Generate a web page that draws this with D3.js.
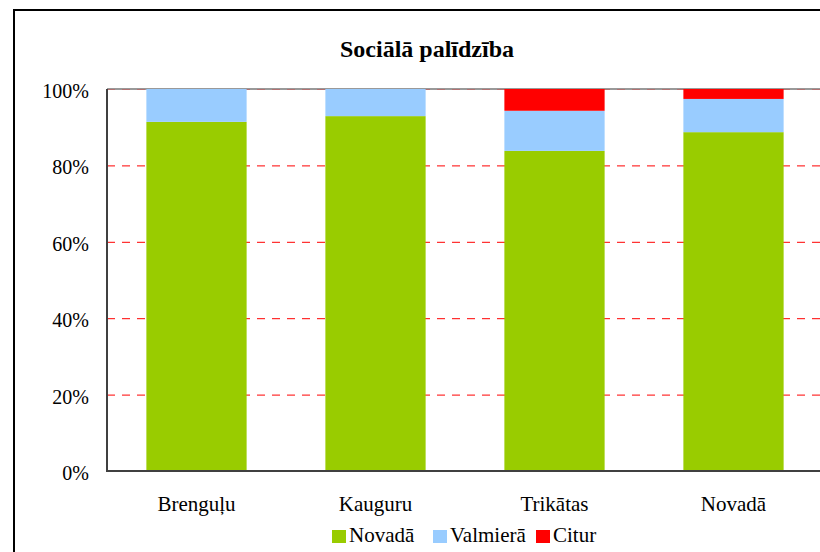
<!DOCTYPE html>
<html>
<head>
  <meta charset="UTF-8">
  <script src="https://d3js.org/d3.v7.min.js"></script>
  <style>
    body { margin: 0; background: #fff; }
  </style>
</head>
<body>
  <svg width="820" height="552"></svg>
  <script>
    // dati
    const categories = ["Brenguļu", "Kauguru", "Trikātas", "Novadā"];
    const seriesNames = ["Novadā", "Valmierā", "Citur"];
    const novada = [91.4, 92.9, 83.8, 88.7];
    const valmiera = [8.6, 7.1, 10.5, 8.7];
    const citur = [0, 0, 5.7, 2.6];
    const yTicks = [0, 20, 40, 60, 80, 100];
    const colors = ["#99cc00", "#99ccff", "#ff0000"];

    const FONT = "Liberation Serif";

    const rows = categories.map((c, i) => ({
      cat: c, "Novadā": novada[i], "Valmierā": valmiera[i], "Citur": citur[i]
    }));

    const svg = d3.select("svg");
    const plotL = 107, plotT = 89, plotB = 471, plotR = 823;

    // rāmis
    svg.append("rect")
      .attr("x", 14).attr("y", 10)
      .attr("width", 830).attr("height", 560)
      .attr("fill", "none").attr("stroke", "#000").attr("stroke-width", 2);

    svg.append("text")
      .attr("x", 427).attr("y", 57)
      .attr("text-anchor", "middle")
      .attr("font-family", FONT)
      .attr("font-size", 24).attr("font-weight", "bold")
      .text("Sociālā palīdzība");

    const x = d3.scaleBand().domain(categories).range([plotL, plotR]).paddingInner(0.44).paddingOuter(0.22);
    const y = d3.scaleLinear().domain([0, 100]).range([plotB, plotT]);

    // režģa līnijas
    svg.append("line")
      .attr("x1", plotL).attr("x2", plotR)
      .attr("y1", y(100)).attr("y2", y(100))
      .attr("stroke", "#999").attr("stroke-width", 2);

    svg.append("g")
      .selectAll("line")
      .data(yTicks.filter(t => t > 0))
      .join("line")
      .attr("x1", plotL).attr("x2", plotR)
      .attr("y1", d => y(d) + 0.5).attr("y2", d => y(d) + 0.5)
      .attr("stroke", "#ff0000")
      .attr("stroke-dasharray", "8 7")
      .attr("stroke-opacity", d => d === 100 ? 0.25 : 1);

    // stabiņi
    const stack = d3.stack().keys(seriesNames)(rows);
    svg.append("g")
      .selectAll("g")
      .data(stack)
      .join("g")
      .attr("fill", (d, i) => colors[i])
      .selectAll("rect")
      .data(d => d)
      .join("rect")
      .attr("x", d => x(d.data.cat))
      .attr("width", x.bandwidth())
      .attr("y", d => y(d[1]))
      .attr("height", d => y(d[0]) - y(d[1]));

    // asis
    svg.append("line")
      .attr("x1", plotL).attr("x2", plotL)
      .attr("y1", plotT).attr("y2", plotB)
      .attr("stroke", "#404040").attr("stroke-width", 2);
    svg.append("line")
      .attr("x1", plotL - 1).attr("x2", plotR)
      .attr("y1", plotB).attr("y2", plotB)
      .attr("stroke", "#404040").attr("stroke-width", 2);

    svg.append("g")
      .selectAll("text")
      .data(yTicks)
      .join("text")
      .attr("x", 89)
      .attr("y", d => y(d) + 9)
      .attr("text-anchor", "end")
      .attr("font-family", FONT)
      .attr("font-size", 20)
      .text(d => d + "%");

    svg.append("g")
      .selectAll("text")
      .data(categories)
      .join("text")
      .attr("x", d => x(d) + x.bandwidth() / 2)
      .attr("y", 511)
      .attr("text-anchor", "middle")
      .attr("font-family", FONT)
      .attr("font-size", 21)
      .text(d => d);

    // leģenda
    const legendX = [332, 433, 536];
    const legend = svg.append("g")
      .selectAll("g")
      .data(seriesNames)
      .join("g")
      .attr("transform", (d, i) => `translate(${legendX[i]},530)`);
    legend.append("rect")
      .attr("width", 14).attr("height", 13)
      .attr("fill", (d, i) => colors[i]);
    legend.append("text")
      .attr("x", 17).attr("y", 12)
      .attr("font-family", FONT)
      .attr("font-size", 21)
      .text(d => d);
  </script>
</body>
</html>
